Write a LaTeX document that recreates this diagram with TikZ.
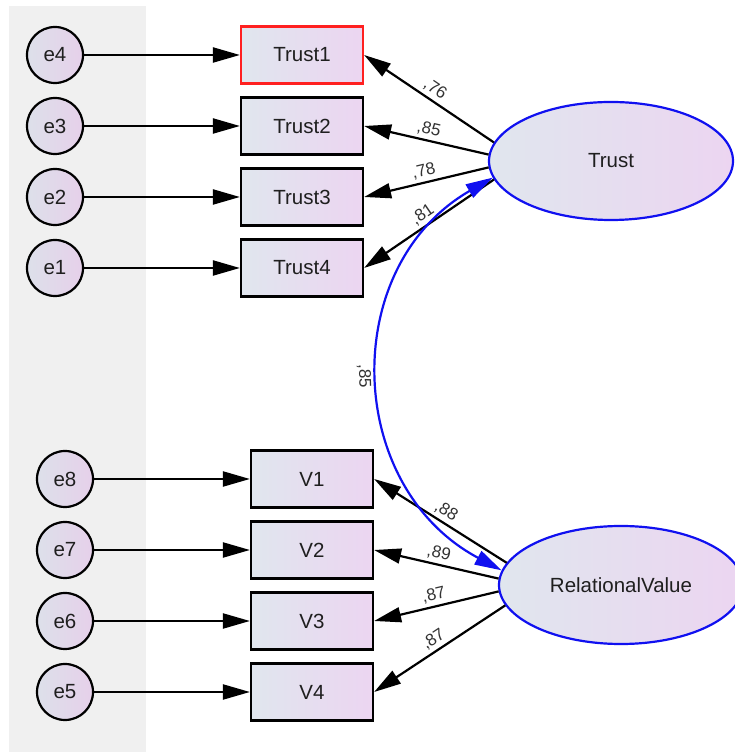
\documentclass[tikz,border=0pt]{standalone}
\usepackage{fontspec}
\setmainfont{Liberation Sans}
\usetikzlibrary{arrows.meta,shapes.geometric}

\definecolor{bandgray}{HTML}{F0F0F0}
\definecolor{fillleft}{HTML}{E0E6EE}
\definecolor{fillright}{HTML}{ECD5F1}
\definecolor{errleft}{HTML}{DDE0EA}
\definecolor{errright}{HTML}{E6D0EA}
\definecolor{boxred}{HTML}{FF2020}
\definecolor{latblue}{HTML}{1010F0}

\begin{document}
\begin{tikzpicture}[x=1pt,y=1pt,
        every node/.style={font=\fontsize{20.5}{24}\selectfont,text=black!88},
        errvar/.style={circle,draw,line width=2.2pt,minimum size=56pt,inner sep=0pt,left color=errleft,right color=errright},
        observed/.style={rectangle,draw,line width=2.2pt,minimum width=122pt,minimum height=57pt,inner sep=0pt,left color=fillleft,right color=fillright},
        latent/.style={ellipse,draw=latblue,line width=2.2pt,minimum width=244pt,minimum height=118pt,inner sep=0pt,left color=fillleft,right color=fillright},
        path/.style={line width=2.2pt,-{Triangle[length=27pt,width=15pt]}},
        cov/.style={latblue,line width=2.2pt,{Triangle[length=27pt,width=15pt]}-{Triangle[length=27pt,width=15pt]}},
        lbl/.style={font=\fontsize{17}{20}\selectfont,inner sep=3pt,text=black!80}]
    \useasboundingbox (0,0) rectangle (735,752);
    % Gray band behind the error terms
    \fill[bandgray] (9,0) rectangle (146,746);
    % Trust indicators with their errors
    \foreach \i/\n/\c in {1/4/boxred,2/3/black,3/2/black,4/1/black} {
        \node[errvar] (e\n) at (55,768-71*\i) {e\n};
        \node[observed,draw=\c] (Trust\i) at (302,768-71*\i) {Trust\i};
        \draw[path] (e\n) -- (Trust\i);
    }
    % Relational value indicators with their errors
    \foreach \i/\n in {1/8,2/7,3/6,4/5} {
        \node[errvar] (e\n) at (65,344-71*\i) {e\n};
        \node[observed] (V\i) at (312,344-71*\i) {V\i};
        \draw[path] (e\n) -- (V\i);
    }
    % Latent variables
    \node[latent] (Trust) at (611,591) {Trust};
    \node[latent] (RelationalValue) at (621,167) {RelationalValue};
    % Loadings
    \foreach \i/\a/\w in {1/171/{,76},2/177/{,85},3/183/{,78},4/189/{,81}} {
        \draw[path] (Trust.\a) -- node[lbl,sloped,above] {\w} (Trust\i.east);
    }
    \foreach \i/\a/\w in {1/169.5/{,88},2/177/{,89},3/183/{,87},4/190.5/{,87}} {
        \draw[path] (RelationalValue.\a) -- node[lbl,sloped,above] {\w} (V\i.east);
    }
    % Covariance
    \draw[cov] (RelationalValue.173) to[out=152,in=210,looseness=1.16] node[lbl,pos=0.5,sloped,below=5pt] {,85} (Trust.188);
\end{tikzpicture}
\end{document}
